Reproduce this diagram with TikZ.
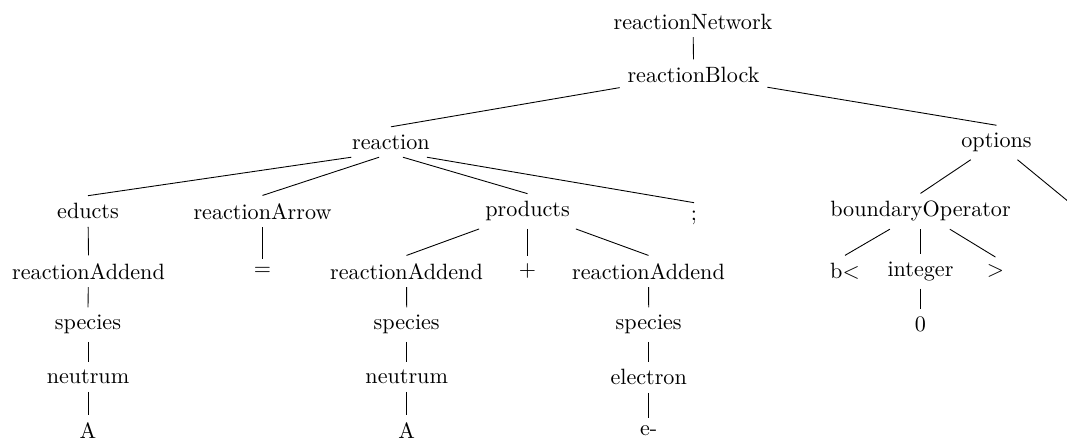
\documentclass[tikz,border=0pt]{standalone}
\usetikzlibrary{calc}
\begin{document}
\begin{tikzpicture}[x=0.4517pt, y=-0.4517pt,
  tn/.style={inner sep=3.33pt},
  edge/.style={draw=black, line width=0.4pt}]
\clip (0,0) rectangle (1067,437);

% level 0-2
\node[tn] (rn) at (693,21.6) {reactionNetwork};
\node[tn] (rb) at (693.5,75) {reactionBlock};
\node[tn] (reaction) at (391,142) {reaction};
\node[tn] (options) at (996.5,142.5) {options};

% level 3
\node[tn] (educts) at (88,211.3) {educts};
\node[tn] (arrow) at (262.5,211.3) {reactionArrow};
\node[tn] (products) at (527.5,211.3) {products};
\node[tn] (semi) at (694,217.4) {;};
\node[tn] (bop) at (920.5,211.3) {boundaryOperator};
\coordinate (optnext) at (1100,227.5);

% level 4
\node[tn] (ra1) at (88.5,271.3) {reactionAddend};
\node[tn] (eq) at (262.5,271.3) {$=$};
\node[tn] (ra2) at (406.5,271.3) {reactionAddend};
\node[tn] (plus) at (527.5,271.3) {$+$};
\node[tn] (ra3) at (648.5,271.3) {reactionAddend};
\node[tn] (blt) at (845,271.3) {b$<$};
\node[tn] (integer) at (920.5,271.3) {integer};
\node[tn] (gt) at (995.5,271.3) {$>$};

% level 5
\node[tn] (sp1) at (88,324.7) {species};
\node[tn] (sp2) at (406.7,324.7) {species};
\node[tn] (sp3) at (648.7,324.7) {species};
\node[tn] (zero) at (920.5,324.7) {0};

% level 6
\node[tn] (ne1) at (88,377.2) {neutrum};
\node[tn] (ne2) at (406.7,377.2) {neutrum};
\node[tn] (el) at (648.7,377.2) {electron};

% level 7
\node[tn] (a1) at (88,430.5) {A};
\node[tn] (a2) at (406.7,430.5) {A};
\node[tn] (em) at (648.7,430.5) {e-};

% edges
\draw[edge] (rn) -- (rb.north);
\draw[edge] (rb) -- (reaction.north);
\draw[edge] (rb) -- (options.north);
\draw[edge] (reaction.201.2) -- (educts.north);
\draw[edge] (reaction.232.7) -- (arrow.north);
\draw[edge] (reaction.308.6) -- (products.north);
\draw[edge] (reaction.337.3) -- (semi.north);
\draw[edge] (options) -- (bop.north);
\draw[edge] (options) -- (optnext);
\draw[edge] (educts) -- (ra1.north);
\draw[edge] (arrow) -- (eq.north);
\draw[edge] (products) -- (ra2.north);
\draw[edge] (products) -- (plus.north);
\draw[edge] (products) -- (ra3.north);
\draw[edge] (bop) -- (blt.north);
\draw[edge] (bop) -- (integer.north);
\draw[edge] (bop) -- (gt.north);
\draw[edge] (ra1) -- (sp1.north);
\draw[edge] (ra2) -- (sp2.north);
\draw[edge] (ra3) -- (sp3.north);
\draw[edge] (integer) -- (zero.north);
\draw[edge] (sp1) -- (ne1.north);
\draw[edge] (sp2) -- (ne2.north);
\draw[edge] (sp3) -- (el.north);
\draw[edge] (ne1) -- (a1.north);
\draw[edge] (ne2) -- (a2.north);
\draw[edge] (el) -- (em.north);
\end{tikzpicture}
\end{document}
